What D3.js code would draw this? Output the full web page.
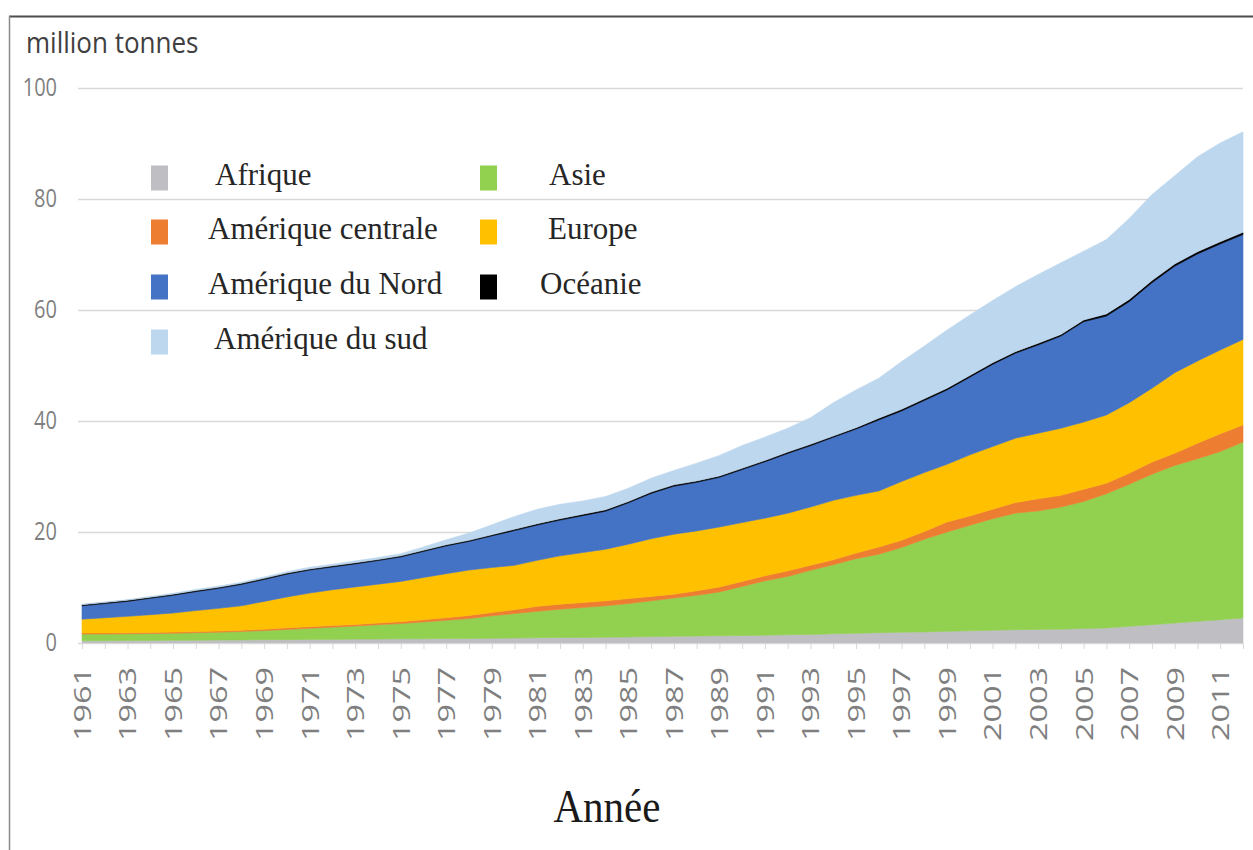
<!DOCTYPE html>
<html>
<head>
<meta charset="utf-8">
<script src="https://cdn.jsdelivr.net/npm/d3@7"></script>
<style>
  body { margin: 0; background: #fff; }
  svg { display: block; }
</style>
</head>
<body>
<div id="chart"></div>
<script>
// categories
const years = [1961,1962,1963,1964,1965,1966,1967,1968,1969,1970,
               1971,1972,1973,1974,1975,1976,1977,1978,1979,1980,
               1981,1982,1983,1984,1985,1986,1987,1988,1989,1990,
               1991,1992,1993,1994,1995,1996,1997,1998,1999,2000,
               2001,2002,2003,2004,2005,2006,2007,2008,2009,2010,
               2011,2012];

// series values (million tonnes)
const afrique = [0.4,0.4,0.45,0.45,0.5,0.5,0.55,0.55,0.6,0.6,
                 0.65,0.65,0.7,0.7,0.75,0.75,0.8,0.8,0.85,0.9,
                 0.95,1.0,1.0,1.05,1.1,1.15,1.2,1.25,1.3,1.35,
                 1.4,1.5,1.55,1.65,1.75,1.85,1.95,2.0,2.1,2.2,
                 2.3,2.4,2.45,2.5,2.6,2.7,3.0,3.3,3.6,3.9,
                 4.2,4.5];
const asie = [1.2,1.22,1.21,1.25,1.26,1.35,1.4,1.53,1.65,1.85,
              2.0,2.2,2.35,2.6,2.75,3.05,3.3,3.6,4.05,4.4,
              4.75,5.1,5.4,5.65,6.0,6.45,6.9,7.35,7.9,8.85,
              9.8,10.5,11.55,12.45,13.45,14.15,15.25,16.7,17.9,19.0,
              20.1,21.0,21.35,22.0,22.9,24.2,25.6,27.1,28.4,29.3,
              30.3,31.7];
const amCentrale = [0.2,0.2,0.2,0.2,0.2,0.2,0.2,0.22,0.25,0.3,
                    0.3,0.3,0.3,0.3,0.35,0.4,0.45,0.55,0.6,0.7,
                    0.9,0.9,0.9,0.9,0.9,0.8,0.7,0.8,0.9,0.9,
                    0.9,1.0,0.9,0.9,1.0,1.3,1.3,1.4,1.8,1.7,
                    1.7,1.9,2.2,2.1,2.2,1.9,2.0,2.2,2.2,2.8,
                    3.2,3.1];
const europe = [2.5,2.73,2.94,3.2,3.44,3.8,4.1,4.4,5.0,5.55,
                6.05,6.45,6.75,7.0,7.25,7.6,7.95,8.2,8.1,8.0,
                8.3,8.7,9.0,9.3,9.8,10.4,10.8,10.8,10.8,10.6,
                10.4,10.4,10.5,10.7,10.4,10.1,10.6,10.6,10.4,11.0,
                11.3,11.6,11.8,12.1,12.1,12.3,12.7,13.3,14.5,14.8,
                15.1,15.4];
const amNord = [2.4,2.55,2.7,2.95,3.2,3.4,3.6,3.85,3.95,4.1,
                4.15,4.1,4.15,4.25,4.4,4.7,5.0,5.15,5.7,6.25,
                6.35,6.45,6.65,6.85,7.45,8.15,8.65,8.75,8.95,9.55,
                10.15,10.75,11.05,11.35,11.95,12.8,12.7,13.0,13.4,14.0,
                14.8,15.3,15.9,16.6,18.1,17.8,18.2,19.0,19.2,19.3,
                19.1,18.9];
const oceanie = [0.2,0.2,0.2,0.2,0.2,0.2,0.2,0.2,0.2,0.2,
                 0.2,0.2,0.2,0.2,0.2,0.2,0.2,0.2,0.2,0.25,
                 0.25,0.25,0.25,0.25,0.25,0.25,0.25,0.25,0.25,0.25,
                 0.25,0.25,0.25,0.25,0.25,0.3,0.3,0.3,0.3,0.3,
                 0.3,0.3,0.3,0.3,0.3,0.4,0.4,0.4,0.4,0.4,
                 0.4,0.4];
const amSud = [0.1,0.1,0.1,0.15,0.15,0.2,0.2,0.2,0.25,0.25,
               0.3,0.3,0.35,0.35,0.4,0.6,0.9,1.3,1.8,2.3,
               2.6,2.6,2.4,2.4,2.4,2.5,2.6,3.2,3.7,4.1,
               4.2,4.3,4.8,6.0,6.8,7.2,8.6,9.5,10.5,10.9,
               11.2,11.7,12.4,12.9,12.4,13.4,14.6,15.5,15.9,17.1,
               17.8,18.1];

// stack order, bottom to top
const keys = ["Afrique", "Asie", "Amérique centrale", "Europe", "Amérique du Nord", "Océanie", "Amérique du sud"];
const seriesByKey = {
    "Afrique": afrique,
    "Asie": asie,
    "Amérique centrale": amCentrale,
    "Europe": europe,
    "Amérique du Nord": amNord,
    "Océanie": oceanie,
    "Amérique du sud": amSud
};
const colors = {
    "Afrique": "#bfbfc3",
    "Asie": "#92d050",
    "Amérique centrale": "#ed7d31",
    "Europe": "#ffc000",
    "Amérique du Nord": "#4472c4",
    "Océanie": "#000000",
    "Amérique du sud": "#bdd7ee"
};
const yTicks = [0, 20, 40, 60, 80, 100];
const yTitle = "million tonnes";
const xTitle = "Année";
const legendColumns = [
    ["Afrique", "Amérique centrale", "Amérique du Nord", "Amérique du sud"],
    ["Asie", "Europe", "Océanie"]
];

const W = 1253, H = 850;
const svg = d3.select("#chart").append("svg")
              .attr("width", W)
              .attr("height", H);

svg.append("rect").attr("width", W).attr("height", H).attr("fill", "#fff");

const x = d3.scaleLinear().domain([1961, 2012]).range([82, 1243]);
const y = d3.scaleLinear().domain([0, 100]).range([643, 88]);

// frame of the pasted picture
svg.append("line")
   .attr("x1", 9).attr("x2", W).attr("y1", 16.5).attr("y2", 16.5)
   .attr("stroke", "#4d4d4d").attr("stroke-width", 2);
svg.append("line")
   .attr("x1", 9.5).attr("x2", 9.5).attr("y1", 16).attr("y2", H)
   .attr("stroke", "#8a8a8a").attr("stroke-width", 1.5);

// y axis + gridlines
const yAxis = svg.append("g")
                 .attr("transform", "translate(78,0)")
                 .call(d3.axisLeft(y).tickValues(yTicks).tickSize(-(1243 - 78)).tickPadding(0));
yAxis.select(".domain").remove();
yAxis.selectAll(".tick line")
     .attr("stroke", "#d9d9d9")
     .attr("stroke-width", 1.5);
yAxis.selectAll(".tick text")
     .attr("x", -21 / 0.77)
     .attr("dy", "0.3em")
     .attr("transform", "scale(0.77,1)")
     .style("font-family", "'Open Sans', sans-serif")
     .style("font-size", "26px")
     .attr("fill", "#7f7f7f");

// stacked areas
const table = years.map((yr, i) => {
    const row = { year: yr };
    keys.forEach(k => { row[k] = seriesByKey[k][i]; });
    return row;
});
const stacked = d3.stack().keys(keys)(table);
const area = d3.area()
               .x(d => x(d.data.year))
               .y0(d => y(d[0]))
               .y1(d => y(d[1]));

svg.append("g")
   .selectAll("path")
   .data(stacked)
   .enter()
   .append("path")
   .attr("d", area)
   .attr("fill", d => colors[d.key])
   .attr("stroke", d => colors[d.key])
   .attr("stroke-width", 0.6);

// x axis
const xAxis = svg.append("g")
                 .attr("transform", "translate(0,643)")
                 .call(d3.axisBottom(x)
                         .tickValues(years)
                         .tickSize(6)
                         .tickSizeOuter(0)
                         .tickFormat(d => (d % 2 === 1 ? String(d) : "")));
xAxis.select(".domain").attr("stroke", "#d9d9d9");
xAxis.selectAll(".tick line").attr("stroke", "#d9d9d9");
xAxis.selectAll(".tick text")
     .attr("x", -24 / 1.35)
     .attr("y", 0)
     .attr("dy", "0.35em")
     .attr("transform", "rotate(-90) scale(1.35,1)")
     .attr("text-anchor", "end")
     .style("font-family", "'Open Sans', sans-serif")
     .style("font-size", "24px")
     .attr("fill", "#7f7f7f");

// titles
svg.append("text")
   .attr("transform", "translate(26,53) scale(1,1.1)")
   .style("font-family", "'Open Sans', sans-serif")
   .style("font-size", "26px")
   .attr("fill", "#404040")
   .text(yTitle);

svg.append("text")
   .attr("transform", "translate(607,822) scale(1,1.15)")
   .attr("text-anchor", "middle")
   .style("font-family", "'Liberation Serif', 'Times New Roman', serif")
   .style("font-size", "41px")
   .attr("fill", "#1a1a1a")
   .text(xTitle);

// legend
const swatchX = [151, 480];
const rowY = [178, 232, 287, 342];
const textDx = { // the labels are not aligned in the original
    "Afrique": 64, "Amérique centrale": 57, "Amérique du Nord": 57, "Amérique du sud": 63,
    "Asie": 69, "Europe": 68, "Océanie": 60
};
const legend = svg.append("g").attr("class", "legend");
legendColumns.forEach((col, c) => {
    col.forEach((name, r) => {
        const item = legend.append("g")
                           .attr("transform", `translate(${swatchX[c]},${rowY[r]})`);
        item.append("rect")
            .attr("x", 0).attr("y", -12.5)
            .attr("width", 17).attr("height", 25)
            .attr("fill", colors[name]);
        item.append("text")
            .attr("x", textDx[name])
            .attr("y", 7)
            .style("font-family", "'Liberation Serif', 'Times New Roman', serif")
            .style("font-size", "31px")
            .attr("fill", "#262626")
            .text(name);
    });
});
</script>
</body>
</html>
